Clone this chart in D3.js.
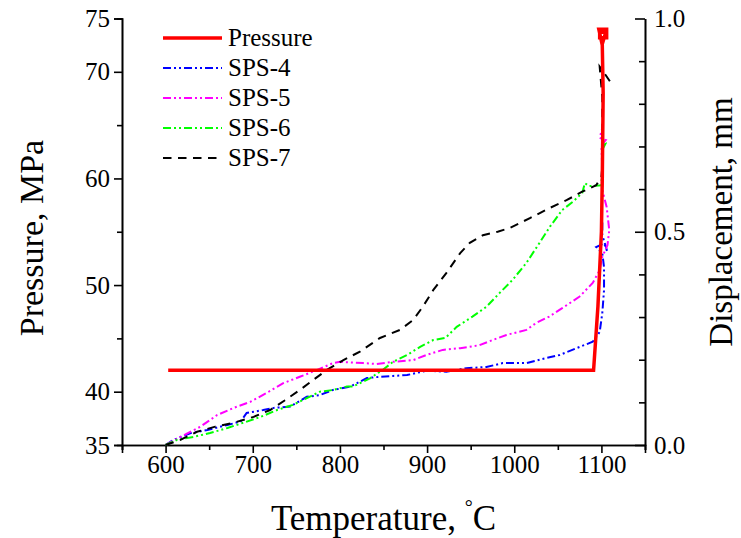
<!DOCTYPE html>
<html>
<head>
<meta charset="utf-8">
<script src="https://cdn.jsdelivr.net/npm/d3@7/dist/d3.min.js"></script>
<style>
  html, body { margin: 0; padding: 0; background: #fff; }
  svg { display: block; }
  svg text { font-family: "Liberation Serif", "Times New Roman", "DejaVu Serif", serif; fill: #000; }
</style>
</head>
<body>
<svg id="chart" width="741" height="538"></svg>
<script>
// ---- Data ----
const pressureTemp = [603, 1080, 1091, 1096, 1100, 1101, 1102, 1101, 1097, 1106, 1106, 1098, 1098, 1105, 1101];
const pressureVal  = [42, 42, 42, 48, 55, 60, 68, 72.5, 74, 74, 73.2, 73.2, 73.7, 73.7, 72.6];

const sps4Temp = [600, 609, 629, 648, 671, 686, 693, 712, 724, 743, 762, 777, 792, 812, 831, 846, 861, 877, 899, 922, 945, 968, 987, 1014, 1037, 1052, 1075, 1090, 1098, 1101, 1103, 1103, 1101, 1094, 1103, 1107, 1101, 1101];
const sps4Disp = [0, 0.012, 0.028, 0.035, 0.047, 0.055, 0.075, 0.082, 0.087, 0.090, 0.113, 0.117, 0.129, 0.137, 0.157, 0.160, 0.162, 0.164, 0.174, 0.172, 0.180, 0.183, 0.192, 0.192, 0.204, 0.211, 0.230, 0.242, 0.265, 0.309, 0.363, 0.417, 0.450, 0.464, 0.473, 0.452, 0.492, 0.523];

const sps5Temp = [600, 617, 640, 659, 678, 697, 716, 735, 754, 774, 792, 800, 827, 842, 861, 884, 899, 918, 938, 960, 975, 991, 1014, 1025, 1040, 1055, 1075, 1090, 1098, 1101, 1107, 1109, 1106, 1101, 1101, 1100, 1105, 1098, 1101];
const sps5Disp = [0, 0.019, 0.043, 0.070, 0.087, 0.101, 0.122, 0.145, 0.160, 0.176, 0.192, 0.195, 0.192, 0.190, 0.195, 0.199, 0.211, 0.223, 0.227, 0.234, 0.246, 0.258, 0.270, 0.286, 0.301, 0.321, 0.348, 0.380, 0.410, 0.441, 0.469, 0.504, 0.558, 0.598, 0.645, 0.703, 0.715, 0.720, 0.743];

const sps6Temp = [600, 613, 632, 651, 671, 689, 709, 728, 746, 762, 777, 792, 808, 815, 835, 849, 861, 877, 892, 907, 921, 934, 952, 968, 983, 998, 1014, 1029, 1041, 1055, 1067, 1078, 1081, 1086, 1100, 1101, 1101, 1105, 1099, 1102];
const sps6Disp = [0, 0.012, 0.019, 0.028, 0.040, 0.052, 0.066, 0.082, 0.094, 0.110, 0.125, 0.129, 0.137, 0.137, 0.157, 0.176, 0.195, 0.211, 0.230, 0.246, 0.251, 0.277, 0.301, 0.324, 0.356, 0.387, 0.427, 0.474, 0.512, 0.551, 0.570, 0.591, 0.614, 0.607, 0.609, 0.645, 0.692, 0.708, 0.715, 0.720];

const sps7Temp = [600, 617, 636, 657, 678, 701, 720, 737, 754, 769, 785, 804, 823, 846, 869, 884, 895, 907, 922, 938, 949, 964, 981, 995, 1018, 1041, 1060, 1078, 1094, 1100, 1101, 1101, 1101, 1099, 1098, 1101, 1111];
const sps7Disp = [0, 0.012, 0.031, 0.043, 0.052, 0.066, 0.082, 0.105, 0.129, 0.152, 0.176, 0.199, 0.219, 0.251, 0.270, 0.293, 0.324, 0.363, 0.403, 0.450, 0.474, 0.492, 0.500, 0.509, 0.532, 0.556, 0.574, 0.594, 0.609, 0.629, 0.652, 0.738, 0.816, 0.863, 0.887, 0.879, 0.849];

const seriesNames = ["Pressure", "SPS-4", "SPS-5", "SPS-6", "SPS-7"];
const seriesColors = ["#ff0000", "#0000ff", "#ff00ff", "#00ff00", "#000000"];
const seriesDash = [null, "8 3 2 3 2 3", "8 3 2 3 2 3", "8 3 2 3 2 3", "8.5 6.5"];

const xMajorTicks = [600, 700, 800, 900, 1000, 1100];
const xMinorTicks = [550, 650, 750, 850, 950, 1050, 1150];
const pMajorTicks = [35, 40, 50, 60, 70, 75];
const pMinorTicks = [45, 55, 65];
const dMajorTicks = [0.0, 0.5, 1.0];
const dMinorTicks = [0.1, 0.2, 0.3, 0.4, 0.6, 0.7, 0.8, 0.9];

// ---- Layout ----
const FONT = '"Liberation Serif", "Times New Roman", "DejaVu Serif", serif';
const L = 122, R = 645, T = 18.5, B = 445;
const svg = d3.select("#chart");

const x = d3.scaleLinear().domain([550, 1150]).range([L, R]);
const yP = d3.scaleLinear().domain([35, 75]).range([B, T]);
const yD = d3.scaleLinear().domain([0, 1]).range([B, T]);

function styleAxis(g) {
  g.attr("font-family", FONT).attr("font-size", 25);
  g.selectAll(".domain").attr("stroke", "#000").attr("stroke-width", 1.6);
  g.selectAll(".tick line").attr("stroke", "#000").attr("stroke-width", 1.6);
  g.selectAll(".tick text").attr("font-family", FONT).style("font-family", FONT).style("font-size", "25px").attr("fill", "#000");
}

// Bottom axis
svg.append("g").attr("transform", `translate(0,${B})`)
  .call(d3.axisBottom(x).tickValues(xMinorTicks).tickSize(5).tickFormat(""))
  .call(styleAxis);
svg.append("g").attr("transform", `translate(0,${B})`)
  .call(d3.axisBottom(x).tickValues(xMajorTicks).tickSize(8).tickPadding(2).tickFormat(d3.format("d")))
  .call(styleAxis);

// Left axis
svg.append("g").attr("transform", `translate(${L},0)`)
  .call(d3.axisLeft(yP).tickValues(pMinorTicks).tickSize(5).tickFormat(""))
  .call(styleAxis);
svg.append("g").attr("transform", `translate(${L},0)`)
  .call(d3.axisLeft(yP).tickValues(pMajorTicks).tickSize(8).tickPadding(4).tickFormat(d3.format("d")))
  .call(styleAxis);

// Right axis (ticks inward)
svg.append("g").attr("transform", `translate(${R},0)`)
  .call(d3.axisRight(yD).tickValues(dMinorTicks).tickSizeInner(-6).tickSizeOuter(0).tickFormat(""))
  .call(styleAxis);
svg.append("g").attr("transform", `translate(${R},0)`)
  .call(d3.axisRight(yD).tickValues(dMajorTicks).tickSizeInner(-10).tickSizeOuter(0).tickPadding(9).tickFormat(d3.format(".1f")))
  .call(styleAxis);

// ---- Lines ----
const plot = svg.append("g");

const dispSeries = [
  { t: sps4Temp, v: sps4Disp, i: 1 },
  { t: sps5Temp, v: sps5Disp, i: 2 },
  { t: sps6Temp, v: sps6Disp, i: 3 },
  { t: sps7Temp, v: sps7Disp, i: 4 }
];
const dLine = d3.line().x(d => x(d[0])).y(d => yD(d[1]));
dispSeries.forEach(s => {
  plot.append("path")
    .datum(s.t.map((t, k) => [t, s.v[k]]))
    .attr("d", dLine)
    .attr("fill", "none")
    .attr("stroke", seriesColors[s.i])
    .attr("stroke-width", 2)
    .attr("stroke-dasharray", seriesDash[s.i]);
});

const pLine = d3.line().x(d => x(d[0])).y(d => yP(d[1]));
plot.append("path")
  .datum(pressureTemp.map((t, k) => [t, pressureVal[k]]))
  .attr("d", pLine)
  .attr("fill", "none")
  .attr("stroke", seriesColors[0])
  .attr("stroke-width", 3.5)
  .attr("stroke-linejoin", "miter");

// ---- Legend ----
const legend = svg.append("g");
seriesNames.forEach((name, i) => {
  const yy = 38 + i * 30;
  legend.append("line")
    .attr("x1", 163).attr("x2", 222).attr("y1", yy).attr("y2", yy)
    .attr("stroke", seriesColors[i])
    .attr("stroke-width", i === 0 ? 3.5 : 2)
    .attr("stroke-dasharray", seriesDash[i]);
  legend.append("text")
    .attr("x", 228).attr("y", yy).attr("dy", "0.33em")
    .attr("font-family", FONT)
    .style("font-size", "25px")
    .text(name);
});

// ---- Axis titles ----
const xt = svg.append("text")
  .attr("x", (L + R) / 2).attr("y", 530)
  .attr("text-anchor", "middle")
  .attr("font-family", FONT)
  .style("font-size", "35px");
xt.append("tspan").text("Temperature, ");
xt.append("tspan").attr("dy", -16).style("font-size", "20px").text("°");
xt.append("tspan").attr("dy", 16).text("C");

svg.append("text")
  .attr("transform", `translate(43,238) rotate(-90)`)
  .attr("text-anchor", "middle")
  .attr("font-family", FONT)
  .style("font-size", "34px")
  .text("Pressure, MPa");

svg.append("text")
  .attr("transform", `translate(732,222) rotate(-90)`)
  .attr("text-anchor", "middle")
  .attr("font-family", FONT)
  .style("font-size", "33px")
  .text("Displacement, mm");
</script>
</body>
</html>
